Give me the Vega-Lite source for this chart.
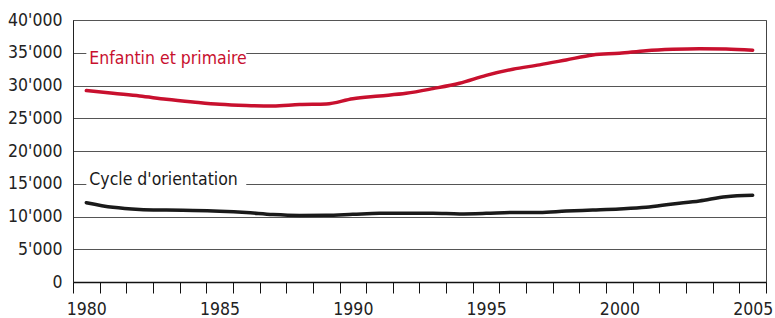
{
  "$schema": "https://vega.github.io/schema/vega-lite/v6.json",
  "width": 693,
  "height": 262,
  "autosize": {"type": "none"},
  "padding": {"left": 73, "top": 20, "right": 9, "bottom": 36},
  "background": "white",
  "config": {
    "view": {"stroke": "#444", "strokeWidth": 1},
    "font": "DejaVu Sans Condensed, Liberation Sans Narrow, Roboto, sans-serif",
    "axisX": {
      "title": null,
      "grid": false,
      "tickBand": "extent",
      "labelAngle": 0,
      "labelOverlap": false,
      "labelFlush": false,
      "tickSize": 11,
      "tickColor": "#111",
      "tickWidth": 1,
      "domainColor": "#111",
      "domainWidth": 1.5,
      "labelPadding": 7,
      "labelFontSize": 17.5,
      "labelColor": "#222"
    },
    "axisY": {
      "title": null,
      "labelOverlap": false,
      "ticks": false,
      "labelPadding": 11,
      "grid": true,
      "gridColor": "#555",
      "gridWidth": 1,
      "domainColor": "#222",
      "domainWidth": 1,
      "labelFontSize": 17.5,
      "labelColor": "#222"
    }
  },
  "datasets": {
    "series": [
      {"series": "Enfantin et primaire", "year": 1980, "value": 29220},
      {"series": "Enfantin et primaire", "year": 1981, "value": 28800},
      {"series": "Enfantin et primaire", "year": 1982, "value": 28400},
      {"series": "Enfantin et primaire", "year": 1983, "value": 27900},
      {"series": "Enfantin et primaire", "year": 1984, "value": 27490},
      {"series": "Enfantin et primaire", "year": 1985, "value": 27130},
      {"series": "Enfantin et primaire", "year": 1986, "value": 26950},
      {"series": "Enfantin et primaire", "year": 1987, "value": 26880},
      {"series": "Enfantin et primaire", "year": 1988, "value": 27100},
      {"series": "Enfantin et primaire", "year": 1989, "value": 27180},
      {"series": "Enfantin et primaire", "year": 1990, "value": 27990},
      {"series": "Enfantin et primaire", "year": 1991, "value": 28400},
      {"series": "Enfantin et primaire", "year": 1992, "value": 28810},
      {"series": "Enfantin et primaire", "year": 1993, "value": 29520},
      {"series": "Enfantin et primaire", "year": 1994, "value": 30340},
      {"series": "Enfantin et primaire", "year": 1995, "value": 31550},
      {"series": "Enfantin et primaire", "year": 1996, "value": 32480},
      {"series": "Enfantin et primaire", "year": 1997, "value": 33150},
      {"series": "Enfantin et primaire", "year": 1998, "value": 33900},
      {"series": "Enfantin et primaire", "year": 1999, "value": 34660},
      {"series": "Enfantin et primaire", "year": 2000, "value": 34920},
      {"series": "Enfantin et primaire", "year": 2001, "value": 35320},
      {"series": "Enfantin et primaire", "year": 2002, "value": 35530},
      {"series": "Enfantin et primaire", "year": 2003, "value": 35620},
      {"series": "Enfantin et primaire", "year": 2004, "value": 35580},
      {"series": "Enfantin et primaire", "year": 2005, "value": 35380},
      {"series": "Cycle d'orientation", "year": 1980, "value": 12110},
      {"series": "Cycle d'orientation", "year": 1981, "value": 11400},
      {"series": "Cycle d'orientation", "year": 1982, "value": 11080},
      {"series": "Cycle d'orientation", "year": 1983, "value": 10980},
      {"series": "Cycle d'orientation", "year": 1984, "value": 10920},
      {"series": "Cycle d'orientation", "year": 1985, "value": 10800},
      {"series": "Cycle d'orientation", "year": 1986, "value": 10600},
      {"series": "Cycle d'orientation", "year": 1987, "value": 10300},
      {"series": "Cycle d'orientation", "year": 1988, "value": 10170},
      {"series": "Cycle d'orientation", "year": 1989, "value": 10180},
      {"series": "Cycle d'orientation", "year": 1990, "value": 10330},
      {"series": "Cycle d'orientation", "year": 1991, "value": 10480},
      {"series": "Cycle d'orientation", "year": 1992, "value": 10480},
      {"series": "Cycle d'orientation", "year": 1993, "value": 10480},
      {"series": "Cycle d'orientation", "year": 1994, "value": 10400},
      {"series": "Cycle d'orientation", "year": 1995, "value": 10480},
      {"series": "Cycle d'orientation", "year": 1996, "value": 10620},
      {"series": "Cycle d'orientation", "year": 1997, "value": 10620},
      {"series": "Cycle d'orientation", "year": 1998, "value": 10840},
      {"series": "Cycle d'orientation", "year": 1999, "value": 10990},
      {"series": "Cycle d'orientation", "year": 2000, "value": 11150},
      {"series": "Cycle d'orientation", "year": 2001, "value": 11400},
      {"series": "Cycle d'orientation", "year": 2002, "value": 11910},
      {"series": "Cycle d'orientation", "year": 2003, "value": 12370},
      {"series": "Cycle d'orientation", "year": 2004, "value": 13030},
      {"series": "Cycle d'orientation", "year": 2005, "value": 13240}
    ],
    "labels": [
      {"series": "Enfantin et primaire", "year": 1980, "year_end": 1986, "grid_value": 35000, "text_value": 33300},
      {"series": "Cycle d'orientation", "year": 1980, "year_end": 1986, "grid_value": 15000, "text_value": 14800}
    ]
  },
  "layer": [
    {
      "data": {"name": "series"},
      "mark": {"type": "line", "strokeWidth": 3.5, "interpolate": "monotone", "strokeCap": "round"},
      "encoding": {
        "x": {
          "field": "year",
          "type": "ordinal",
          "scale": {"paddingInner": 0, "paddingOuter": 0},
          "axis": {"labelExpr": "datum.value % 5 === 0 ? datum.label : ''"}
        },
        "y": {
          "field": "value",
          "type": "quantitative",
          "scale": {"domain": [0, 40000], "nice": false},
          "axis": {
            "values": [0, 5000, 10000, 15000, 20000, 25000, 30000, 35000, 40000],
            "format": ",d",
            "labelExpr": "replace(datum.label, ',', \"'\")"
          }
        },
        "color": {
          "field": "series",
          "type": "nominal",
          "scale": {"domain": ["Enfantin et primaire", "Cycle d'orientation"], "range": ["#c8102e", "#1a1a1a"]},
          "legend": null
        }
      }
    },
    {
      "data": {"name": "labels"},
      "mark": {"type": "rule", "color": "white", "strokeWidth": 3},
      "encoding": {
        "x": {
          "field": "year",
          "type": "ordinal",
          "axis": {"labelExpr": "datum.value % 5 === 0 ? datum.label : ''"}
        },
        "x2": {"field": "year_end"},
        "y": {
          "field": "grid_value",
          "type": "quantitative",
          "axis": {
            "values": [0, 5000, 10000, 15000, 20000, 25000, 30000, 35000, 40000],
            "format": ",d",
            "labelExpr": "replace(datum.label, ',', \"'\")"
          }
        }
      }
    },
    {
      "data": {"name": "labels"},
      "mark": {"type": "text", "align": "left", "baseline": "alphabetic", "dx": 3, "fontSize": 17.5},
      "encoding": {
        "x": {
          "field": "year",
          "type": "ordinal",
          "axis": {"labelExpr": "datum.value % 5 === 0 ? datum.label : ''"}
        },
        "y": {
          "field": "text_value",
          "type": "quantitative",
          "axis": {
            "values": [0, 5000, 10000, 15000, 20000, 25000, 30000, 35000, 40000],
            "format": ",d",
            "labelExpr": "replace(datum.label, ',', \"'\")"
          }
        },
        "text": {"field": "series"},
        "color": {"field": "series", "type": "nominal", "legend": null}
      }
    }
  ]
}
